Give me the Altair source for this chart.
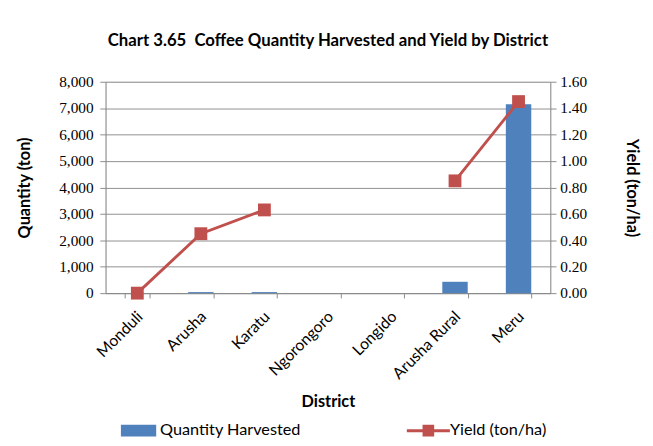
import altair as alt
import pandas as pd

districts = ["Monduli", "Arusha", "Karatu", "Ngorongoro", "Longido", "Arusha Rural", "Meru"]
quantity = [0, 40, 40, 0, 0, 430, 7150]
yield_ = [0.00, 0.45, 0.63, None, None, 0.85, 1.45]
segment = [1, 1, 1, None, None, 2, 2]
series = ["Quantity Harvested", "Yield (ton/ha)"]

df = pd.DataFrame({"District": districts, "Quantity": quantity, "Yield": yield_, "Segment": segment})
dline = df.dropna(subset=["Yield"])
dleg = pd.DataFrame({"Series": series})

BLUE = "#4F81BD"
RED = "#C0504D"
SANS = "Lato"
SERIF = "Liberation Serif"

xenc = alt.X("District:N", sort=districts, title="District",
             scale=alt.Scale(paddingInner=0.6, paddingOuter=0.3),
             axis=alt.Axis(labelAngle=-45, labelFont=SANS, labelFontSize=16.5, labelColor="#000",
                           titleFont=SANS, titleFontSize=17, titleFontWeight="bold", titleColor="#000",
                           tickBand="extent", domainColor="#888", tickColor="#888", tickSize=5,
                           titlePadding=13, labelPadding=11, labelOffset=-3))

bars = alt.Chart(df).mark_bar(color=BLUE).encode(
    x=xenc,
    y=alt.Y("Quantity:Q", title="Quantity (ton)",
            scale=alt.Scale(domain=[0, 8000]),
            axis=alt.Axis(values=list(range(0, 8001, 1000)), format=",.0f", labelFont=SERIF, labelFontSize=16,
                          labelColor="#000", labelOverlap=False, titleFont=SANS, titleFontSize=17,
                          titleFontWeight="bold", titleColor="#000", grid=True, gridColor="#8c8c8c",
                          domainColor="#888", tickColor="#888", tickSize=6, titlePadding=27, labelPadding=7))
)

line = alt.Chart(dline).mark_line(
    color=RED, strokeWidth=3,
    point=alt.OverlayMarkDef(shape="square", filled=True, color=RED, opacity=1, size=180),
).encode(
    x=alt.X("District:N", sort=districts),
    y=alt.Y("Yield:Q", title="Yield (ton/ha)",
            scale=alt.Scale(domain=[0, 1.6]),
            axis=alt.Axis(values=[0, 0.2, 0.4, 0.6, 0.8, 1.0, 1.2, 1.4, 1.6], format=".2f",
                          orient="right", labelFont=SERIF, labelFontSize=16, labelColor="#000",
                          labelOverlap=False, titleFont=SANS, titleFontSize=17, titleFontWeight="bold",
                          titleColor="#000", grid=False, domainColor="#888", tickColor="#888",
                          tickSize=6, titlePadding=38, labelPadding=4)),
    detail="Segment:N",
)

legend_layer = alt.Chart(dleg).mark_point(filled=True, opacity=0, size=0).encode(
    x=alt.value(0), y=alt.value(0),
    color=alt.Color("Series:N", scale=alt.Scale(domain=series, range=[BLUE, RED]),
                    legend=alt.Legend(title=None, orient="none", legendX=12, legendY=342,
                                      direction="horizontal",
                                      symbolOpacity=1, symbolSize=2025, symbolStrokeWidth=0,
                                      labelFont=SANS, labelFontSize=17, labelColor="#000",
                                      columnPadding=110, labelOffset=0, labelLimit=300)),
    shape=alt.Shape("Series:N", scale=alt.Scale(domain=series, range=[
        "M-0.82,-0.27H0.82V0.27H-0.82Z",
        "M-1,-0.07H1V0.07H-1Z M-0.27,-0.27H0.27V0.27H-0.27Z",
    ]), legend=None),
)

chart = alt.layer(
    alt.layer(bars, legend_layer),
    line,
).resolve_scale(y="independent").properties(
    width=465, height=221,
    padding={"left": 8, "top": 15, "right": 5, "bottom": 5},
    title=alt.TitleParams("Chart 3.65\u00a0 Coffee Quantity Harvested and Yield by District",
                          font=SANS, fontSize=17.5, fontWeight="bold", color="#000", offset=26),
).configure_view(stroke=None).configure(background="white")

chart.save("out.html", embed_options={"renderer": "svg", "actions": False})
